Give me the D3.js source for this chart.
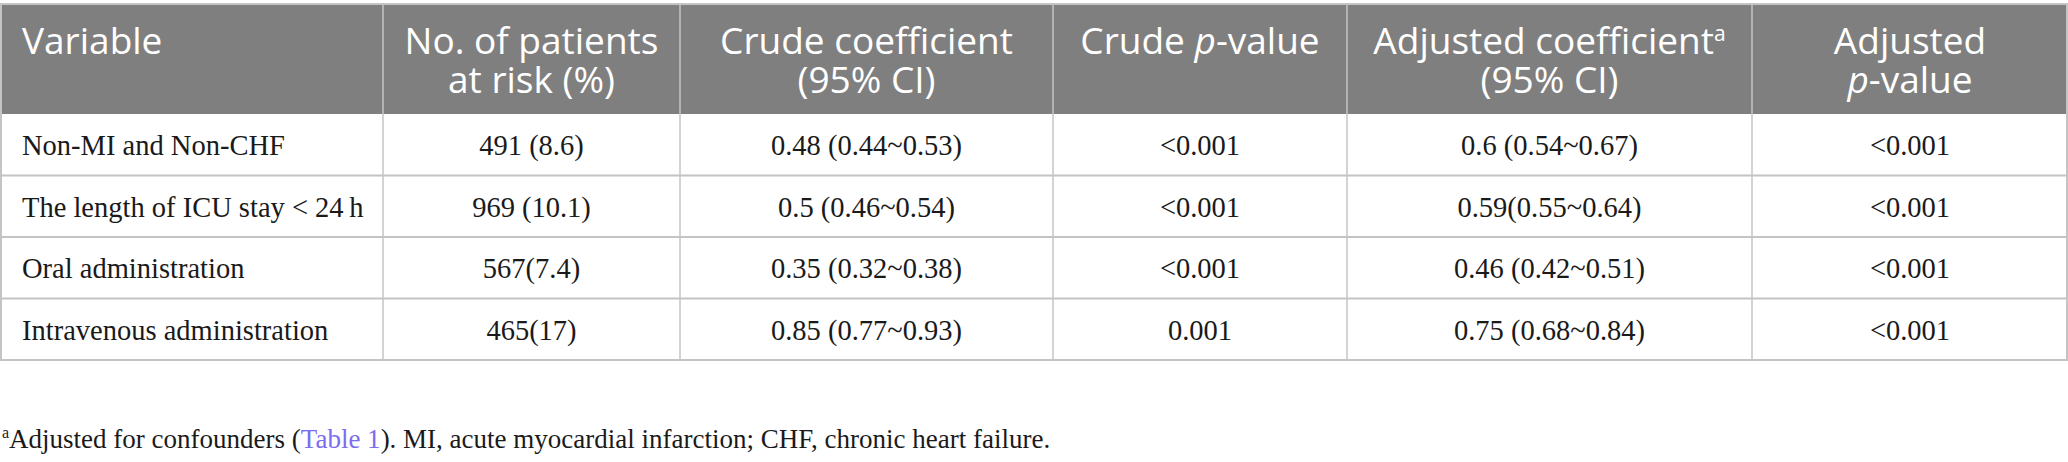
<!DOCTYPE html>
<html>
<head>
<meta charset="utf-8">
<script src="https://cdn.jsdelivr.net/npm/d3@7"></script>
<style>
  body { margin: 0; background: #fff; }
  .head text { font-family: 'Open Sans', sans-serif; font-size: 37px; fill: #fff; }
  .cell text { font-family: 'Liberation Serif', serif; font-size: 28.5px; fill: #1a1a1a; }
  .note { font-family: 'Liberation Serif', serif; font-size: 27px; fill: #1a1a1a; }
</style>
</head>
<body>
<div id="table"></div>
<script>
// header lines per column; {i:true} marks italic pieces, {sup:true} superscripts
const headers = [
  [[{ t: 'Variable' }]],
  [[{ t: 'No. of patients' }], [{ t: 'at risk (%)' }]],
  [[{ t: 'Crude coefficient' }], [{ t: '(95% CI)' }]],
  [[{ t: 'Crude ' }, { t: 'p', i: true }, { t: '-value' }]],
  [[{ t: 'Adjusted coefficient' }, { t: 'a', sup: true }], [{ t: '(95% CI)' }]],
  [[{ t: 'Adjusted' }], [{ t: 'p', i: true }, { t: '-value' }]],
];

const variables = [
  'Non-MI and Non-CHF',
  'The length of ICU stay < 24\u2009h',
  'Oral administration',
  'Intravenous administration',
];
const patientsAtRisk = ['491 (8.6)', '969 (10.1)', '567(7.4)', '465(17)'];
const crudeCoef = ['0.48 (0.44~0.53)', '0.5 (0.46~0.54)', '0.35 (0.32~0.38)', '0.85 (0.77~0.93)'];
const crudeP = ['<0.001', '<0.001', '<0.001', '0.001'];
const adjustedCoef = ['0.6 (0.54~0.67)', '0.59(0.55~0.64)', '0.46 (0.42~0.51)', '0.75 (0.68~0.84)'];
const adjustedP = ['<0.001', '<0.001', '<0.001', '<0.001'];

const columns = [variables, patientsAtRisk, crudeCoef, crudeP, adjustedCoef, adjustedP];

// layout
const width = 2068;
const height = 462;
const colEdges = [0, 383, 680, 1053, 1347, 1752, 2068];
const headTop = 4;
const headBottom = 114;
const tableBottom = 360;

const svg = d3.select('#table').append('svg')
  .attr('width', width)
  .attr('height', height);

const y = d3.scaleBand()
  .domain(d3.range(variables.length))
  .range([headBottom, tableBottom]);

const colX = i => colEdges[i];
const colW = i => colEdges[i + 1] - colEdges[i];

// header background
svg.append('rect')
  .attr('x', 0)
  .attr('y', headTop)
  .attr('width', width)
  .attr('height', headBottom - headTop)
  .attr('fill', '#7f7f7f');

// header text: one text element per cell, lines as tspans
const head = svg.append('g').attr('class', 'head');
headers.forEach((lines, c) => {
  const left = c === 0;
  const x = left ? colX(c) + 22 : colX(c) + colW(c) / 2;
  const t = head.append('text')
    .attr('x', x)
    .attr('y', 54)
    .attr('text-anchor', left ? 'start' : 'middle');
  lines.forEach((pieces, li) => {
    const line = t.append('tspan')
      .attr('x', x)
      .attr('y', 54 + li * 39);
    pieces.forEach((p) => {
      const ts = line.append('tspan').text(p.t);
      if (p.i) ts.style('font-style', 'italic');
      if (p.sup) ts.style('font-size', '21px').attr('dy', -13);
    });
  });
});

// body cells
const body = svg.append('g').attr('class', 'cell');
columns.forEach((vals, c) => {
  body.selectAll(null)
    .data(vals)
    .enter()
    .append('text')
    .attr('x', c === 0 ? colX(c) + 22 : colX(c) + colW(c) / 2)
    .attr('y', (d, i) => y(i) + 41)
    .attr('text-anchor', c === 0 ? 'start' : 'middle')
    .text(d => d);
});

// grid lines
const grid = svg.append('g')
  .attr('stroke', '#c4c4c4')
  .attr('stroke-width', 2)
  .attr('fill', 'none');

grid.append('line')
  .attr('x1', 0).attr('x2', width)
  .attr('y1', headTop).attr('y2', headTop);

grid.selectAll('.hline')
  .data(d3.range(1, variables.length + 1))
  .enter()
  .append('line')
  .attr('x1', 0)
  .attr('x2', width)
  .attr('y1', i => y(i - 1) + y.bandwidth())
  .attr('y2', i => y(i - 1) + y.bandwidth());

grid.selectAll('.vline')
  .data(colEdges)
  .enter()
  .append('line')
  .attr('x1', d => Math.min(Math.max(d, 1), width - 1))
  .attr('x2', d => Math.min(Math.max(d, 1), width - 1))
  .attr('y1', headTop)
  .attr('y2', tableBottom)
  .attr('stroke-width', (d, i) => (i === 0 || i === colEdges.length - 1 ? 2 : 1.5));

// footnote
const note = svg.append('text')
  .attr('class', 'note')
  .attr('x', 2)
  .attr('y', 448);
note.append('tspan').text('a').style('font-size', '16px').attr('dy', -10);
note.append('tspan').attr('dy', 10).text('Adjusted for confounders (');
note.append('tspan').attr('fill', '#7b6cf0').text('Table 1');
note.append('tspan').text('). MI, acute myocardial infarction; CHF, chronic heart failure.');
</script>
</body>
</html>
